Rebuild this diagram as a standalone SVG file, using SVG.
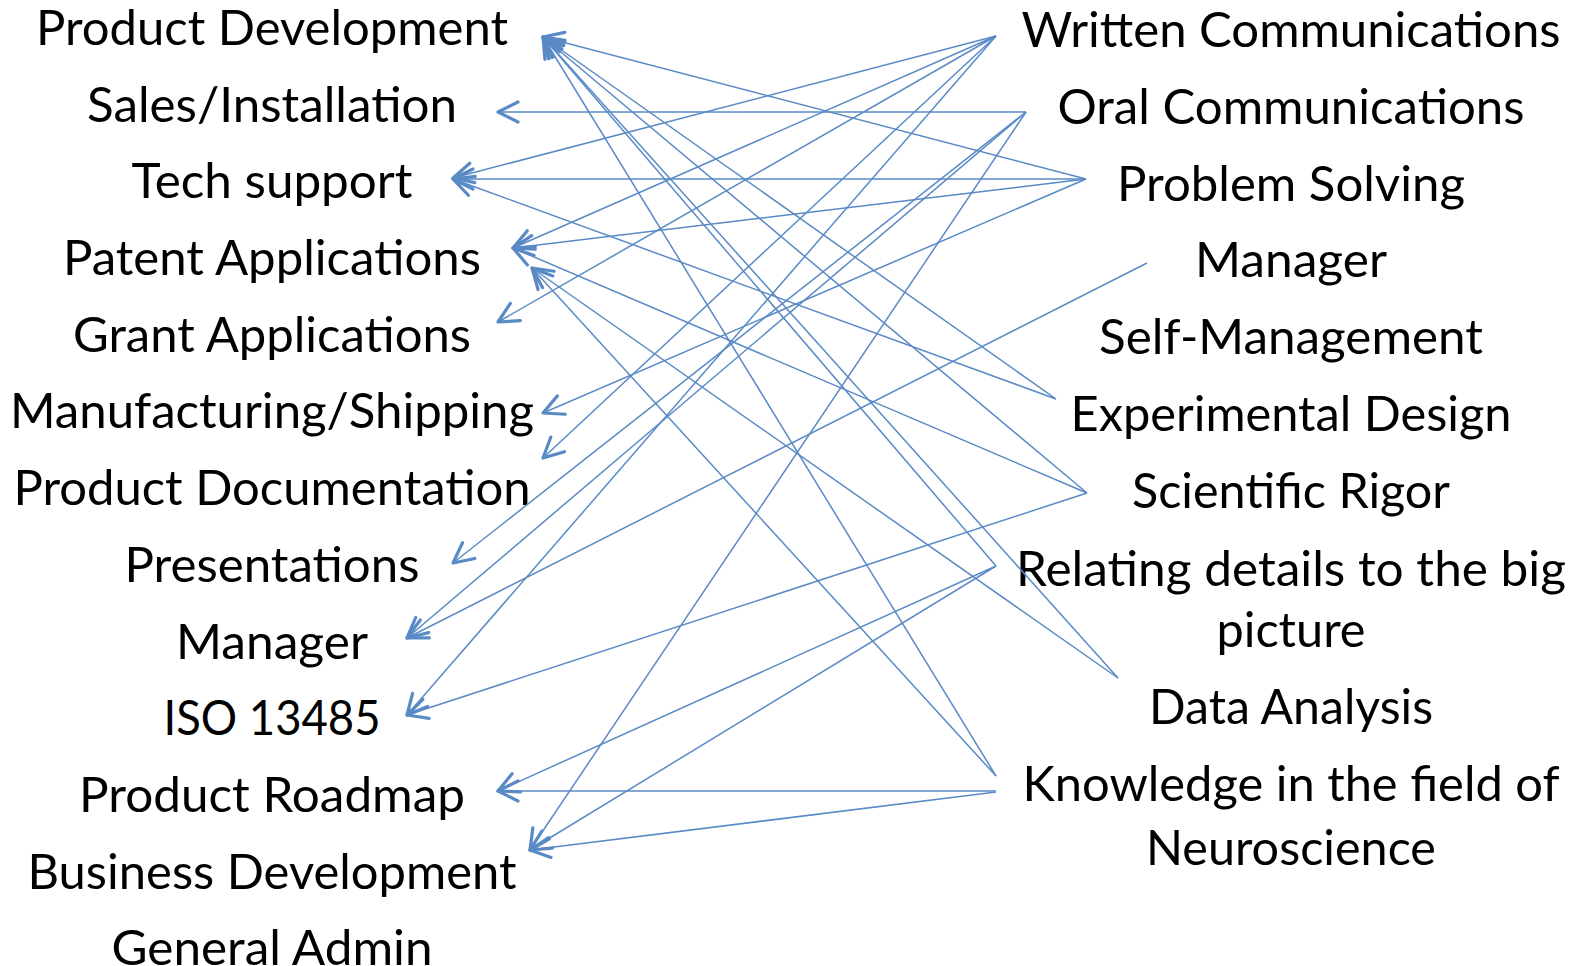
<svg xmlns="http://www.w3.org/2000/svg" width="1581" height="966" viewBox="0 0 1581 966">
<style>
text{font-family:Lato,"Liberation Sans",sans-serif;font-size:48px;fill:#000;text-anchor:middle}
.c line{stroke:#5A8AC6;stroke-width:1.5;fill:none;marker-end:url(#arr)}
</style>
<defs>
<marker id="arr" viewBox="-26 -14 30 28" refX="0" refY="0" markerWidth="30" markerHeight="28" orient="auto" markerUnits="userSpaceOnUse" overflow="visible">
<path d="M-20,-10 L0,0 L-20,10" fill="none" stroke="#5A8AC6" stroke-width="3.2" stroke-linecap="round" stroke-linejoin="round"/>
</marker>
</defs>
<rect width="1581" height="966" fill="#fff"/>
<g id="left-nodes">
<g id="n-product-development"><text x="272" y="45" textLength="472" lengthAdjust="spacingAndGlyphs">Product Development</text></g>
<g id="n-sales-installation"><text x="272" y="122" textLength="370" lengthAdjust="spacingAndGlyphs">Sales/Installation</text></g>
<g id="n-tech-support"><text x="272" y="198" textLength="281" lengthAdjust="spacingAndGlyphs">Tech support</text></g>
<g id="n-patent-applications"><text x="272" y="275" textLength="418" lengthAdjust="spacingAndGlyphs">Patent Applications</text></g>
<g id="n-grant-applications"><text x="272" y="352" textLength="398" lengthAdjust="spacingAndGlyphs">Grant Applications</text></g>
<g id="n-manufacturing-shipping"><text x="272" y="428" textLength="524" lengthAdjust="spacingAndGlyphs">Manufacturing/Shipping</text></g>
<g id="n-product-documentation"><text x="272" y="505" textLength="517" lengthAdjust="spacingAndGlyphs">Product Documentation</text></g>
<g id="n-presentations"><text x="272" y="582" textLength="295" lengthAdjust="spacingAndGlyphs">Presentations</text></g>
<g id="n-manager-left"><text x="272" y="659" textLength="192" lengthAdjust="spacingAndGlyphs">Manager</text></g>
<g id="n-iso-13485"><text x="272" y="735" textLength="217" lengthAdjust="spacingAndGlyphs">ISO 13485</text></g>
<g id="n-product-roadmap"><text x="272" y="812" textLength="386" lengthAdjust="spacingAndGlyphs">Product Roadmap</text></g>
<g id="n-business-development"><text x="272" y="889" textLength="489" lengthAdjust="spacingAndGlyphs">Business Development</text></g>
<g id="n-general-admin"><text x="272" y="965" textLength="321" lengthAdjust="spacingAndGlyphs">General Admin</text></g>
</g>
<g id="right-nodes">
<g id="n-written-communications"><text x="1291" y="47" textLength="539" lengthAdjust="spacingAndGlyphs">Written Communications</text></g>
<g id="n-oral-communications"><text x="1291" y="124" textLength="467" lengthAdjust="spacingAndGlyphs">Oral Communications</text></g>
<g id="n-problem-solving"><text x="1291" y="201" textLength="348" lengthAdjust="spacingAndGlyphs">Problem Solving</text></g>
<g id="n-manager-right"><text x="1291" y="277" textLength="192" lengthAdjust="spacingAndGlyphs">Manager</text></g>
<g id="n-self-management"><text x="1291" y="354" textLength="384" lengthAdjust="spacingAndGlyphs">Self-Management</text></g>
<g id="n-experimental-design"><text x="1291" y="431" textLength="441" lengthAdjust="spacingAndGlyphs">Experimental Design</text></g>
<g id="n-scientific-rigor"><text x="1291" y="508" textLength="318" lengthAdjust="spacingAndGlyphs">Scientific Rigor</text></g>
<g id="n-relating-details"><text x="1291" y="586" textLength="550" lengthAdjust="spacingAndGlyphs">Relating details to the big</text><text x="1291" y="647" textLength="149" lengthAdjust="spacingAndGlyphs">picture</text></g>
<g id="n-data-analysis"><text x="1291" y="724" textLength="284" lengthAdjust="spacingAndGlyphs">Data Analysis</text></g>
<g id="n-knowledge-neuroscience"><text x="1291" y="801" textLength="537" lengthAdjust="spacingAndGlyphs">Knowledge in the field of</text><text x="1291" y="865" textLength="290" lengthAdjust="spacingAndGlyphs">Neuroscience</text></g>
</g>
<g id="connectors" class="c">
<line x1="1086" y1="179" x2="543" y2="37"/>
<line x1="1056" y1="399" x2="543" y2="37"/>
<line x1="1087" y1="493" x2="543" y2="37"/>
<line x1="996" y1="566" x2="543" y2="37"/>
<line x1="1118" y1="678" x2="543" y2="37"/>
<line x1="996" y1="776" x2="543" y2="37"/>
<line x1="1026" y1="112" x2="498" y2="112"/>
<line x1="996" y1="36" x2="453" y2="178"/>
<line x1="1086" y1="179" x2="453" y2="179"/>
<line x1="1056" y1="399" x2="453" y2="179"/>
<line x1="996" y1="36" x2="513" y2="248"/>
<line x1="1086" y1="179" x2="513" y2="248"/>
<line x1="1087" y1="493" x2="513" y2="248"/>
<line x1="1118" y1="678" x2="532" y2="268"/>
<line x1="996" y1="776" x2="532" y2="268"/>
<line x1="996" y1="36" x2="498" y2="322"/>
<line x1="1086" y1="179" x2="543" y2="413"/>
<line x1="996" y1="36" x2="543" y2="458"/>
<line x1="1026" y1="112" x2="453" y2="563"/>
<line x1="1026" y1="112" x2="407" y2="638"/>
<line x1="1147" y1="263" x2="407" y2="638"/>
<line x1="996" y1="36" x2="407" y2="715"/>
<line x1="1087" y1="493" x2="407" y2="715"/>
<line x1="996" y1="566" x2="498" y2="791"/>
<line x1="996" y1="791" x2="498" y2="791"/>
<line x1="1026" y1="112" x2="530" y2="850"/>
<line x1="996" y1="566" x2="530" y2="850"/>
<line x1="996" y1="792" x2="530" y2="850"/>
</g>
</svg>
